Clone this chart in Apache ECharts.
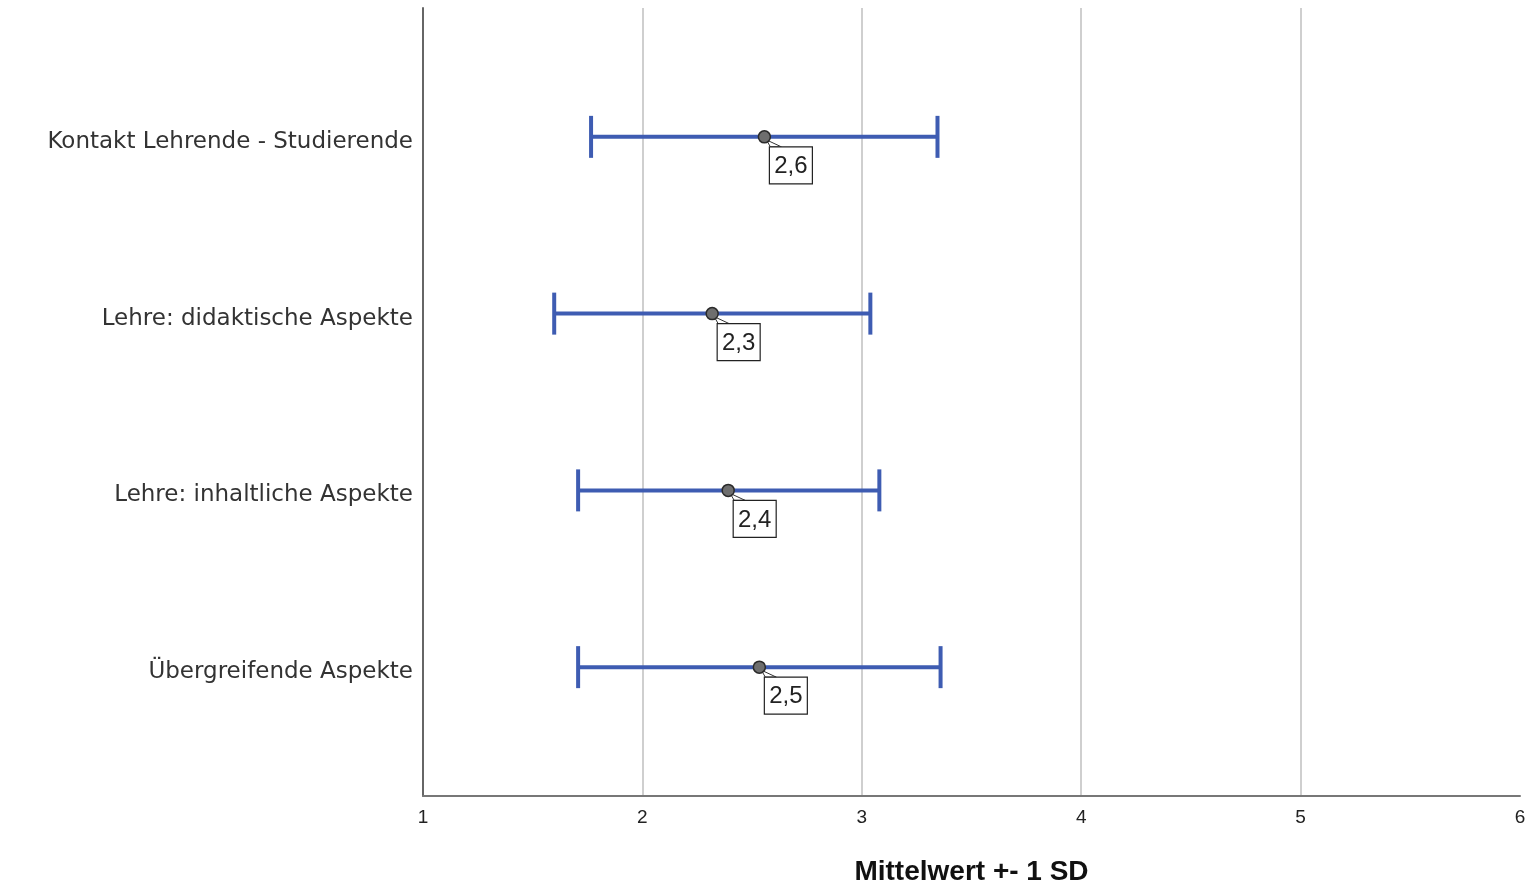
<!DOCTYPE html>
<html>
<head>
<meta charset="utf-8">
<script src="https://cdn.jsdelivr.net/npm/echarts@6/dist/echarts.min.js"></script>
<style>
html,body{margin:0;padding:0;background:#fff;}
#chart{width:1531px;height:886px;}
</style>
</head>
<body>
<div id="chart"></div>
<script>
// Data
const categories = ['Kontakt Lehrende - Studierende', 'Lehre: didaktische Aspekte', 'Lehre: inhaltliche Aspekte', 'Übergreifende Aspekte'];
const rowPositions = [4, 3, 2, 1];
const means = [2.556, 2.318, 2.391, 2.533];
const lowerBounds = [1.766, 1.598, 1.707, 1.707];
const upperBounds = [3.345, 3.039, 3.080, 3.359];
const meanLabels = ['2,6', '2,3', '2,4', '2,5'];
const xTicks = [1, 2, 3, 4, 5, 6];
const xTitle = 'Mittelwert +- 1 SD';

const seriesData = categories.map((c, i) => [rowPositions[i], means[i], lowerBounds[i], upperBounds[i]]);

const BLUE = '#3e5cb2';

const chart = echarts.init(document.getElementById('chart'));
chart.setOption({
  animation: false,
  backgroundColor: '#ffffff',
  grid: { left: 423, right: 11, top: 8, bottom: 90, containLabel: false, outerBoundsMode: 'none' },
  xAxis: {
    type: 'value', min: 1, max: 6, interval: 1,
    axisLine: { show: true, lineStyle: { color: '#777', width: 2 } },
    axisTick: { show: false },
    splitLine: { show: true, showMinLine: false, showMaxLine: false, lineStyle: { color: '#cfcfcf', width: 2 } },
    axisLabel: { color: '#222', fontSize: 19, fontFamily: 'Liberation Sans', margin: 12,
      customValues: xTicks, formatter: v => String(v) },
    name: xTitle, nameLocation: 'middle', nameGap: 62,
    nameTextStyle: { fontFamily: 'Liberation Sans', fontWeight: 'bold', fontSize: 28, color: '#111' }
  },
  yAxis: {
    type: 'value', min: 0.271, max: 4.729,
    axisLine: { show: true, lineStyle: { color: '#666', width: 2 } },
    axisTick: { show: false },
    splitLine: { show: false },
    axisLabel: {
      customValues: rowPositions, margin: 10, color: '#333', fontSize: 23, fontFamily: 'DejaVu Sans',
      verticalAlign: 'top', lineHeight: 10,
      formatter: v => { const i = rowPositions.indexOf(Math.round(v)); return i >= 0 ? categories[i] : ''; }
    }
  },
  series: [{
    type: 'custom',
    data: seriesData,
    encode: { x: [1, 2, 3], y: 0 },
    clip: false,
    renderItem: function (params, api) {
      const y = api.value(0);
      const pM = api.coord([api.value(1), y]);
      const pL = api.coord([api.value(2), y]);
      const pH = api.coord([api.value(3), y]);
      const cap = 21;
      const lbl = meanLabels[params.dataIndex];
      const bx = pM[0] + 5, by = pM[1] + 10, bw = 43, bh = 37;
      return {
        type: 'group',
        children: [
          { type: 'line', shape: { x1: pL[0], y1: pL[1], x2: pH[0], y2: pH[1] }, style: { stroke: BLUE, lineWidth: 4 } },
          { type: 'line', shape: { x1: pL[0], y1: pL[1] - cap, x2: pL[0], y2: pL[1] + cap }, style: { stroke: BLUE, lineWidth: 4 } },
          { type: 'line', shape: { x1: pH[0], y1: pH[1] - cap, x2: pH[0], y2: pH[1] + cap }, style: { stroke: BLUE, lineWidth: 4 } },
          { type: 'polygon', shape: { points: [[pM[0] + 2, pM[1] + 3], [bx + 1, by], [bx + 12, by]] }, style: { fill: '#fff', stroke: '#333', lineWidth: 1 } },
          { type: 'rect', shape: { x: bx, y: by, width: bw, height: bh }, style: { fill: '#fff', stroke: '#222', lineWidth: 1.2 } },
          { type: 'text', x: bx + bw / 2, y: by + bh / 2 + 1, style: { text: lbl, fill: '#222', font: '24px "Liberation Sans"', align: 'center', verticalAlign: 'middle' } },
          { type: 'circle', shape: { cx: pM[0], cy: pM[1], r: 6 }, style: { fill: '#6e6e6e', stroke: '#2a2a2a', lineWidth: 1.5 } }
        ]
      };
    }
  }]
});
</script>
</body>
</html>
